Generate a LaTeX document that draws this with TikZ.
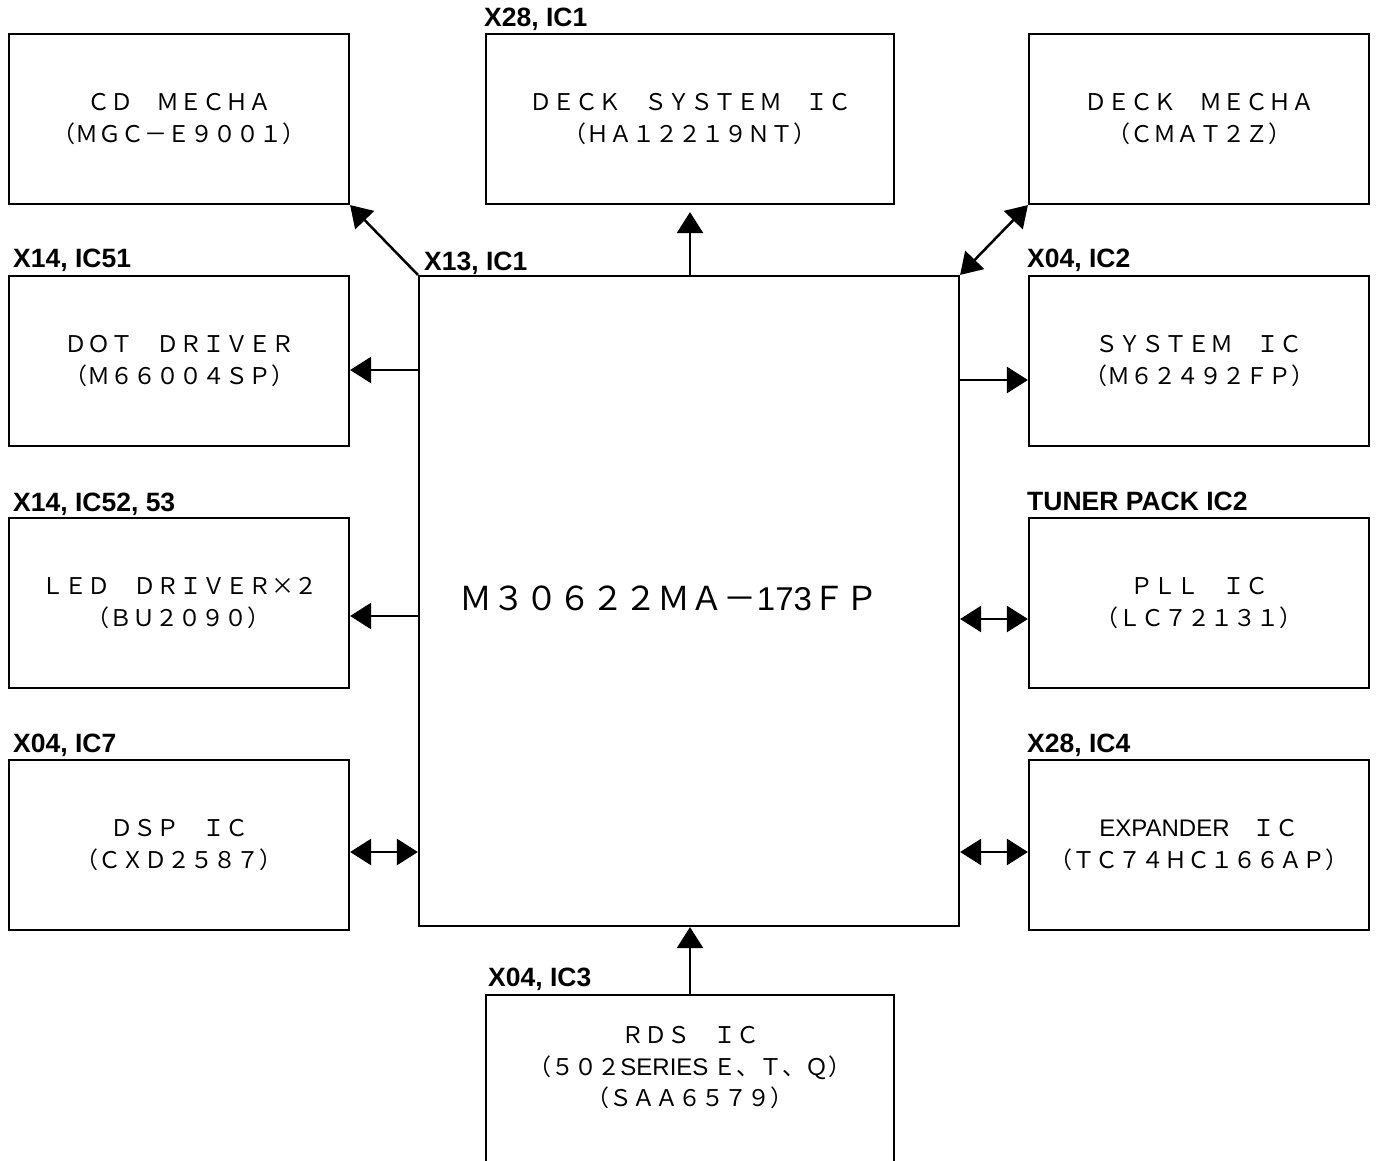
\documentclass[tikz,border=0pt]{standalone}
\usepackage{fontspec}
\setmainfont{Liberation Sans}
\newfontfamily\jp{Noto Sans CJK JP}
\usetikzlibrary{arrows.meta}

\begin{document}
\begin{tikzpicture}[x=1pt, y=-1pt,
    blk/.style={draw, line width=2.2pt, minimum width=340pt, minimum height=170pt, inner sep=0pt, align=center,
      font=\jp\fontsize{23}{32}\selectfont},
    wblk/.style={blk, minimum width=408pt},
    txt/.style={align=center, inner sep=0pt, font=\jp\fontsize{23}{31.5}\selectfont},
    tag/.style={anchor=base west, inner sep=0pt, font=\bfseries\fontsize{26.5}{26.5}\selectfont},
    arr/.style={line width=2.5pt, -{Triangle[length=21pt,width=26pt]}},
    dbl/.style={line width=2.5pt, {Triangle[length=21pt,width=26pt]}-{Triangle[length=21pt,width=26pt]}}]
        \clip (0,0) rectangle (1379,1161);

        % main controller
        \node[draw, line width=2.2pt, minimum width=540pt, minimum height=650pt, inner sep=0pt] (main) at (689,601) {};
        \node[txt, font=\jp\fontsize{33}{33}\selectfont] (maintxt) at (669,598) {Ｍ３０６２２ＭＡ－{\rmfamily 173}ＦＰ};
        \node[tag] (tmain) at (424,270) {X13, IC1};

        % top row
        \node[blk] (cdm) at (179,119) {ＣＤ　ＭＥＣＨＡ\\（ＭＧＣ－Ｅ９００１）};
        \node[wblk] (dsys) at (690,119) {ＤＥＣＫ　ＳＹＳＴＥＭ　ＩＣ\\（ＨＡ１２２１９ＮＴ）};
        \node[tag] (tdsys) at (484,27) {X28, IC1};
        \node[blk] (dmech) at (1199,119) {ＤＥＣＫ　ＭＥＣＨＡ\\（ＣＭＡＴ２Ｚ）};

        % left column
        \node[blk] (dot) at (179,361) {ＤＯＴ　ＤＲＩＶＥＲ\\（Ｍ６６００４ＳＰ）};
        \node[tag] (tdot) at (13,268) {X14, IC51};
        \node[blk] (led) at (179,603) {ＬＥＤ　ＤＲＩＶＥＲ×２\\（ＢＵ２０９０）};
        \node[tag] (tled) at (13,511) {X14, IC52, 53};
        \node[blk] (dsp) at (179,845) {ＤＳＰ　ＩＣ\\（ＣＸＤ２５８７）};
        \node[tag] (tdsp) at (13,752) {X04, IC7};

        % right column
        \node[blk] (sys) at (1199,361) {ＳＹＳＴＥＭ　ＩＣ\\（Ｍ６２４９２ＦＰ）};
        \node[tag] (tsys) at (1027,268) {X04, IC2};
        \node[blk] (pll) at (1199,603) {ＰＬＬ　ＩＣ\\（ＬＣ７２１３１）};
        \node[tag] (tpll) at (1027,510) {TUNER PACK IC2};
        \node[blk] (exp) at (1199,845) {{\rmfamily\fontsize{24}{32}\selectfont EXPANDER}　ＩＣ\\（ＴＣ７４ＨＣ１６６ＡＰ）};
        \node[tag] (texp) at (1027,752) {X28, IC4};

        % bottom
        \node[wblk, minimum height=220pt, anchor=north] (rds) at (690,994) {};
        \node[txt] (rdstxt) at (690,1068) {ＲＤＳ　ＩＣ\\（５０２{\rmfamily\fontsize{24}{31.5}\selectfont SERIES} Ｅ、Ｔ、Ｑ）\\（ＳＡＡ６５７９）};
        \node[tag] (trds) at (488,986) {X04, IC3};

        % connections
        \draw[arr] (main.north west) -- (cdm.south east);
        \draw[arr] (dsys.south |- main.north) -- ([yshift=-7pt]dsys.south);
        \draw[dbl] (main.north east) -- (dmech.south west);
        \draw[arr] (main.west |- 0,370) -- (dot.east |- 0,370);
        \draw[arr] (main.west |- 0,616) -- (led.east |- 0,616);
        \draw[dbl] (main.west |- 0,852) -- (dsp.east |- 0,852);
        \draw[arr] (main.east |- 0,380) -- (sys.west |- 0,380);
        \draw[dbl] (main.east |- 0,619) -- (pll.west |- 0,619);
        \draw[dbl] (main.east |- 0,852) -- (exp.west |- 0,852);
        \draw[arr] (rds.north) -- (main.south -| rds.north);
\end{tikzpicture}
\end{document}
